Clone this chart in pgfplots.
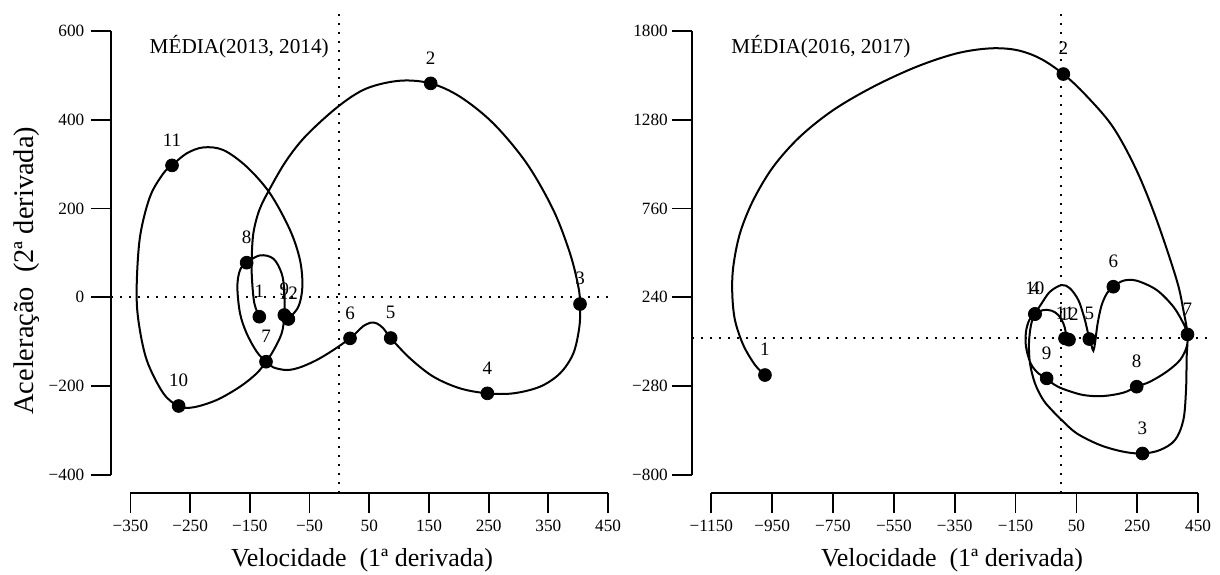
\documentclass[border=0pt]{standalone}
\usepackage{pgfplots}
\pgfplotsset{compat=1.18}
\usepackage{fontspec}
\setmainfont{Liberation Serif}
\begin{document}
\begin{tikzpicture}[x=1pt,y=1pt]
\useasboundingbox (0pt,0pt) rectangle (610pt,287pt);
\pgfplotsset{
  rstyle/.style={
    scale only axis,
    anchor=south west,
    clip=false,
    axis x line*=bottom,
    axis y line*=left,
    axis line style={draw=none},
    tick align=outside,
    major tick length=10pt,
    tick style={black, line width=0.9pt},
    ticklabel style={font=\fontsize{8.6}{10}\selectfont},
    height=239.9pt,
  },
  dotR/.style={black, line width=0.9pt, dash pattern=on 0.9pt off 3.6pt},
  curveR/.style={black, line width=1pt, smooth, tension=0.55},
  ptsR/.style={only marks, mark=*, mark size=3.2pt, black,
    nodes near coords, point meta=explicit symbolic,
    every node near coord/.append style={anchor=center, yshift=12.75pt, font=\fontsize{9.5}{11}\selectfont, black}},
}
% ---------------- left panel ----------------
\begin{axis}[rstyle, at={(55.65pt,40.6pt)}, width=257.95pt,
  xmin=-382, xmax=482, ymin=-440, ymax=640,
  xtick={-350,-250,-150,-50,50,150,250,350,450},
  xticklabels={−350,−250,−150,−50,50,150,250,350,450},
  ytick={-400,-200,0,200,400,600},
  yticklabels={−400,−200,0,200,400,600}]
\draw[black, line width=1pt] (axis cs:-350,-440) -- (axis cs:450,-440);
\draw[black, line width=1pt] (axis cs:-382,-400) -- (axis cs:-382,600);
\addplot[dotR] coordinates {(-382,0) (462,0)};
\addplot[dotR] coordinates {(0,-440) (0,640)};
\addplot[curveR] coordinates {
(-134.1,-43.6) (-142.4,-13.6) (-146.3,38.9) (-146.9,84.0) (-144.1,144.0) (-134.1,196.5)
(-116.2,245.2) (-88.3,309.0) (-54.8,365.3) (-1.2,430.5) (45.7,470.3) (101.5,487.6)
(152.9,481.6) (202.0,451.6) (257.8,391.5) (313.7,301.5) (358.3,196.5) (386.2,99.0) (400.2,23.9)
(403.0,-15.1) (401.9,-66.1) (391.8,-126.1) (369.5,-171.1) (336.0,-201.1) (291.3,-216.1)
(247.8,-216.1) (202.0,-204.9) (157.4,-178.6) (118.3,-137.4)
(85.9,-91.6) (73.6,-69.8) (62.4,-58.6) (52.4,-57.1) (40.1,-64.6) (29.0,-78.8)
(17.8,-92.3) (-10.1,-118.6) (-38.0,-141.1) (-65.9,-157.6) (-88.3,-163.6) (-110.6,-157.6)
(-122.9,-144.9) (-138.5,-122.3) (-155.3,-81.1) (-166.4,-36.1) (-170.9,23.9) (-166.4,61.4)
(-155.3,78.0) (-132.9,94.5) (-110.6,87.0) (-96.7,53.9) (-92.2,12.7)
(-92.2,-39.8) (-96.7,-81.1) (-110.6,-120.1) (-122.9,-144.9) (-138.5,-171.1) (-166.4,-201.1)
(-205.5,-231.1) (-244.6,-247.6)
(-269.2,-244.6) (-294.8,-216.1) (-322.7,-141.1) (-336.7,-51.1) (-339.5,23.9) (-333.9,136.5)
(-317.2,226.5) (-294.8,279.0)
(-280.3,297.0) (-255.8,324.0) (-227.8,337.5) (-194.3,331.5) (-155.3,294.0) (-116.2,234.0)
(-82.7,151.5) (-66.0,84.0) (-62.0,23.9) (-68.7,-21.1)
(-85.5,-48.8)
};
\addplot[ptsR] coordinates {
(-134.1,-43.6) [1]
(152.9,481.6) [2]
(403.0,-15.1) [3]
(247.8,-216.1) [4]
(85.9,-91.6) [5]
(17.8,-92.3) [6]
(-122.9,-144.9) [7]
(-155.3,78.0) [8]
(-92.2,-39.8) [9]
(-269.2,-244.6) [10]
(-280.3,297.0) [11]
(-85.5,-48.8) [12]
};
\end{axis}
% ---------------- right panel ----------------
\begin{axis}[rstyle, at={(345.9pt,40.6pt)}, width=262.9pt,
  xmin=-1214, xmax=514, ymin=-904, ymax=1904,
  yticklabel style={xshift=1.5pt},
  xtick={-1150,-950,-750,-550,-350,-150,50,250,450},
  xticklabels={−1150,−950,−750,−550,−350,−150,50,250,450},
  ytick={-800,-280,240,760,1280,1800},
  yticklabels={−800,−280,240,760,1280,1800}]
\draw[black, line width=1pt] (axis cs:-1150,-904) -- (axis cs:450,-904);
\draw[black, line width=1pt] (axis cs:-1214,-800) -- (axis cs:-1214,1800);
\addplot[dotR] coordinates {(-1214,0) (492,0)};
\addplot[dotR] coordinates {(0,-904) (0,1904)};
\addplot[curveR] coordinates {
(-973.6,-214.8) (-1006.5,-155.3) (-1044.8,-39.2) (-1072.2,107.1) (-1081.0,263.1) (-1077.7,419.2)
(-1055.8,614.3) (-1011.9,809.3) (-946.2,1004.4) (-858.6,1180.0) (-749.0,1336.0) (-617.5,1472.6)
(-475.1,1589.6) (-343.6,1667.6) (-234.1,1696.9) (-146.4,1687.1) (-69.7,1638.4)
(7.0,1546.7) (80.5,1423.8) (169.4,1238.5) (247.2,984.9) (313.8,692.3) (379.5,341.2) (401.4,165.7)
(415,23) (412.4,-107.4) (410.2,-302.5) (401.4,-478.1) (374.1,-595.1) (324.7,-653.6)
(267,-674) (204.2,-663.4) (127.5,-624.4) (50.9,-556.1) (1.5,-478.1) (-25.9,-429.4) (-58.8,-361.1)
(-86.2,-263.6) (-102.6,-146.5) (-105.9,-29.5) (-99.3,77.8)
(-86.2,142.2) (-64.3,204.6) (-36.9,272.9) (1.5,311.9) (28.9,292.4) (56.3,224.1) (74.9,126.6) (85.8,48.6)
(92.4,-4.1) (100.1,-45.1) (105.6,-72.4) (111.0,-29.5) (119.8,87.6) (133.0,194.9) (151.6,267.0)
(171.3,302.1) (204.2,337.3) (248.1,337.3) (313.8,282.7) (368.6,185.2) (401.4,87.6)
(415,23) (412.4,-48.9) (390.5,-126.9) (346.7,-195.2) (291.9,-253.7)
(248.1,-283.0) (204.2,-318.1) (138.5,-337.6) (72.8,-331.8) (7.0,-296.6) (-25.8,-267.4)
(-47.8,-234.3) (-75.2,-205.0) (-100.4,-146.5) (-115.7,-49.0) (-115.7,38.8) (-104.8,107.1)
(-86.2,142.2) (-58.8,165.6) (-31.4,161.7) (-9.5,136.3) (7.0,87.6) (14.5,38.8)
(12.5,-0.2) (25.6,-8.0)
};
\addplot[ptsR] coordinates {
(-973.6,-214.8) [1]
(7.0,1546.7) [2]
(267,-674) [3]
(-86.2,142.2) [4]
(92.4,-4.1) [5]
(171.3,302.1) [6]
(415,23) [7]
(248.1,-283.0) [8]
(-47.8,-234.3) [9]
(-86.2,142.2) [10]
(12.5,-0.2) [11]
(25.6,-8.0) [12]
};
\end{axis}
% ---------------- texts ----------------
\node[anchor=base west, inner sep=0pt, font=\fontsize{10.6}{12}\selectfont] at (74.65pt,260.35pt) {MÉDIA(2013, 2014)};
\node[anchor=base west, inner sep=0pt, font=\fontsize{10.6}{12}\selectfont] at (365.5pt,260.35pt) {MÉDIA(2016, 2017)};
\node[anchor=base, font=\fontsize{13}{15}\selectfont] at (181pt,4pt) {Velocidade\ \ (1ª derivada)};
\node[anchor=base, font=\fontsize{13}{15}\selectfont] at (476pt,4pt) {Velocidade\ \ (1ª derivada)};
\node[anchor=base, rotate=90, font=\fontsize{14.2}{16}\selectfont] at (16.65pt,151.6pt) {Aceleração\ \ (2ª derivada)};
\end{tikzpicture}
\end{document}
